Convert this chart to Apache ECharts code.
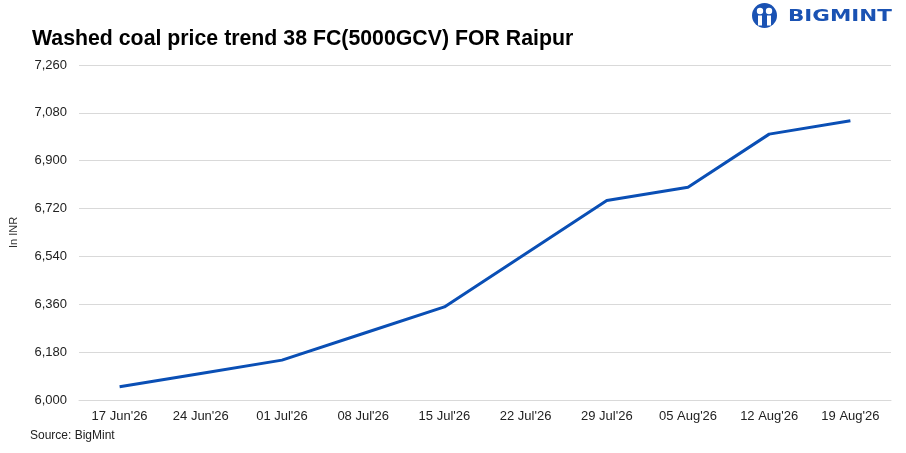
<!DOCTYPE html>
<html><head><meta charset="utf-8">
<script src="https://cdn.jsdelivr.net/npm/echarts@6/dist/echarts.min.js"></script>
<style>html,body{margin:0;padding:0;background:#fff}#c{width:906px;height:453px}</style>
</head><body><div id="c"></div>
<script>
const categories = ["17 Jun'26","24 Jun'26","01 Jul'26","08 Jul'26","15 Jul'26","22 Jul'26","29 Jul'26","05 Aug'26","12 Aug'26","19 Aug'26"];
const prices = [6050, 6100, 6150, 6250, 6350, 6550, 6750, 6800, 7000, 7050];
const yMin = 6000, yMax = 7260, yStep = 180;

const chart = echarts.init(document.getElementById('c'));
const F = "'Liberation Sans', Arial, sans-serif";
chart.setOption({
  animation: false,
  backgroundColor: '#fff',
  title: {
    text: 'Washed coal price trend 38 FC(5000GCV) FOR Raipur',
    left: 27, top: 24,
    textStyle: { fontFamily: F, fontSize: 21.3, fontWeight: 'bold', color: '#000' }
  },
  grid: { left: 78, right: 15, top: 65, bottom: 53 },
  xAxis: {
    type: 'category', data: categories, boundaryGap: true,
    axisLine: { show: true, lineStyle: { color: '#d9d9d9', width: 1 } },
    axisTick: { show: false },
    axisLabel: { fontFamily: F, fontSize: 13, color: '#222', margin: 10 }
  },
  yAxis: {
    type: 'value', min: yMin, max: yMax, interval: yStep,
    name: 'In INR', nameLocation: 'middle', nameGap: 60, nameRotate: 90,
    nameTextStyle: { fontFamily: F, fontSize: 11, color: '#333' },
    axisLine: { show: false }, axisTick: { show: false },
    axisLabel: { fontFamily: F, fontSize: 13, color: '#222', margin: 12,
      formatter: v => v.toLocaleString('en-US') },
    splitLine: { lineStyle: { color: '#d9d9d9', width: 1 } }
  },
  series: [{
    type: 'line', data: prices, symbol: 'none',
    lineStyle: { color: '#0a4fb5', width: 3 }
  }],
  graphic: [
    { type: 'text', left: 30, top: 430,
      style: { text: 'Source: BigMint', fontFamily: F, fontSize: 12, fill: '#222' } },
    { type: 'group', left: 752, top: 3, children: [
      { type: 'circle', shape: { cx: 12.5, cy: 12.5, r: 12.5 }, style: { fill: '#1a52b3' } },
      { type: 'circle', shape: { cx: 8, cy: 8, r: 3.2 }, style: { fill: '#fff' } },
      { type: 'circle', shape: { cx: 17, cy: 8, r: 3.2 }, style: { fill: '#fff' } },
      { type: 'rect', shape: { x: 6, y: 12.5, width: 4, height: 10 }, style: { fill: '#fff' } },
      { type: 'rect', shape: { x: 15, y: 12.5, width: 4, height: 10 }, style: { fill: '#fff' } },
      { type: 'text', x: 36, y: 5, scaleX: 1.3,
        style: { text: 'BIGMINT', fontFamily: "'DejaVu Sans', sans-serif", fontSize: 16.5, fontWeight: 'bold', fill: '#1a52b3' } }
    ]}
  ]
});
</script></body></html>
